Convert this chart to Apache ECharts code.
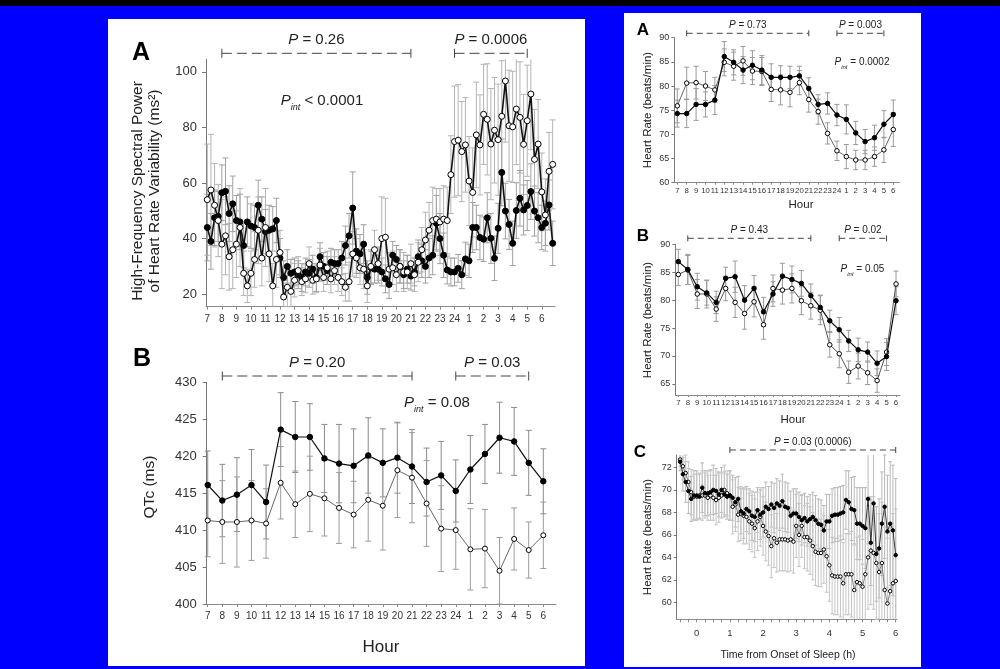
<!DOCTYPE html>
<html>
<head>
<meta charset="utf-8">
<script src="https://cdn.jsdelivr.net/npm/echarts@6/dist/echarts.min.js"></script>
<style>
  html, body { margin: 0; padding: 0; background: #0000ff; overflow: hidden; }
  #stage { position: relative; width: 1000px; height: 669px; }
  .strip { position: absolute; left: 0; top: 0; width: 1000px; height: 6px; background: #000; }
  .panel { position: absolute; background: #fff; }
  #chart { position: absolute; left: 0; top: 0; width: 1000px; height: 669px; }
</style>
</head>
<body>
<div id="stage">
  <div class="strip"></div>
  <div class="panel" style="left:108px;top:19px;width:477px;height:647px;"></div>
  <div class="panel" style="left:624px;top:13px;width:297px;height:654px;"></div>
  <div id="chart"></div>
</div>
<script>
// ---- clock hours shown along the 24-h axes ----
const hourLabels = ['7','8','9','10','11','12','13','14','15','16','17','18','19','20','21','22','23','24','1','2','3','4','5','6'];

// ---- HF spectral power (ms^2), 15-min bins starting at 07:00 ----
const hfFilled = [
  44, 39, 47.5, 48, 56.5, 57, 49, 52.5, 46.5, 46,
  37.5, 46, 44.5, 44, 52, 47, 42.5, 43, 43.5, 46.5,
  33, 26, 30, 27.5, 28, 27, 26, 28, 27.5, 29,
  26, 33.5, 30, 28.5, 31.5, 31, 31, 33, 37.5, 41,
  51, 35.5, 34.5, 38, 26, 29.5, 29, 29, 28, 25.5,
  23.5, 34, 32.5, 30, 27, 29, 26.5, 28, 33.5, 32,
  30, 33, 34, 45.5, 40, 34, 28.7, 28, 28, 29.3,
  27, 32.7, 32, 44, 44, 40.4, 39.8, 47.5, 40.1, 32.9,
  43.7, 63.8, 49.9, 45.1, 38.3, 50.1, 54.5, 50.3, 51.9, 56.9,
  49.9, 47.5, 44, 45.5, 52.1, 38.3
];
const hfFilledErr = [
  12, 10, 10, 9, 10, 12, 10, 10, 9, 10,
  8, 9, 8, 8, 9, 8, 8, 9, 8, 8,
  7, 6, 6, 5, 5, 5, 5, 5, 5, 5,
  5, 5, 5, 5, 5, 5, 5, 6, 7, 8,
  13, 8, 7, 7, 6, 6, 5, 5, 5, 5,
  5, 5, 5, 6, 5, 5, 5, 5, 6, 6,
  6, 7, 7, 10, 9, 8, 5, 5, 5, 5,
  5, 6, 6, 9, 8, 8, 8, 9, 9, 8,
  9, 12, 10, 9, 8, 10, 10, 9, 9, 10,
  9, 9, 8, 8, 9, 8
];
const hfOpen = [
  54, 57.5, 52, 46.5, 38, 41, 33.5, 36, 38, 44,
  27.5, 23, 27.5, 32.5, 43, 33, 44, 34.5, 23, 32.5,
  35, 19, 22.5, 21, 25, 28.5, 24.5, 25.5, 31, 25,
  25.5, 30.5, 26, 29.5, 25.5, 28.5, 26, 24.5, 22.5, 24.5,
  34.5, 33, 29.5, 29, 23, 30, 36, 31, 40, 40.5,
  29, 29.5, 27, 30, 28, 28, 31, 27, 31.5, 36,
  39.5, 43, 46.5, 47, 46, 47, 46.5, 63, 74.9, 75.4,
  71.3, 73.7, 60.7, 56.6, 77.3, 73.7, 84.7, 82.9, 74, 79,
  75.6, 84, 96.7, 80.6, 80.2, 86.6, 83.6, 73.9, 82.4, 92,
  68.5, 74, 56.8, 48.5, 64.2, 66.7
];
const hfOpenErr = [
  20, 20, 15, 13, 16, 14, 12, 14, 12, 14,
  8, 6, 8, 10, 12, 10, 14, 10, 8, 10,
  8, 6, 7, 6, 6, 5, 5, 5, 6, 5,
  5, 6, 5, 6, 5, 5, 5, 5, 5, 7,
  8, 7, 6, 7, 6, 6, 7, 6, 15, 14,
  6, 6, 6, 6, 7, 6, 7, 6, 7, 8,
  10, 10, 12, 11, 12, 12, 12, 14, 20, 20,
  18, 17, 16, 16, 19, 18, 18, 20, 20, 19,
  20, 20, 22, 20, 20, 20, 20, 18, 20, 20,
  18, 16, 14, 13, 14, 16
];

// ---- QTc (ms), hourly ----
const qtcFilled = [416.1, 414.0, 414.8, 416.1, 413.8, 423.6, 422.6, 422.6, 419.7, 419.0, 418.7, 420.1, 419.1, 419.8, 418.6, 416.5, 417.4, 415.3, 418.2, 420.3, 422.5, 422.0, 419.1, 416.6];
const qtcFilledErr = [4.6, 4.9, 5.0, 4.8, 5.0, 5.0, 4.8, 4.5, 4.6, 5.3, 5.0, 5.1, 4.6, 4.8, 5.0, 4.6, 4.6, 4.2, 4.6, 4.0, 4.8, 4.6, 4.4, 4.4];
const qtcOpen = [411.3, 411.1, 411.1, 411.3, 410.9, 416.4, 413.5, 414.9, 414.3, 413.0, 412.1, 414.1, 413.3, 418.1, 417.1, 413.6, 410.2, 410.0, 407.4, 407.5, 404.5, 408.8, 407.3, 409.3];
const qtcOpenErr = [4.9, 5.6, 6.1, 5.4, 4.7, 4.9, 4.5, 5.1, 5.1, 4.8, 4.5, 5.6, 6.0, 6.4, 6.1, 5.8, 5.8, 5.3, 5.5, 5.3, 4.5, 4.2, 3.8, 4.5];

// ---- heart rate (beats/min), hourly, first protocol ----
const hrAFilled = [74.3, 74.3, 76.2, 76.2, 77.1, 86.1, 84.9, 83.3, 84.3, 83.3, 81.8, 81.8, 81.8, 82.1, 79.5, 76.2, 76.4, 74.0, 73.1, 70.3, 68.5, 69.3, 72.1, 74.1];
const hrAFilledErr = [2.8, 2.9, 3.3, 2.6, 3.0, 3.1, 2.6, 2.8, 3.0, 3.0, 2.8, 2.4, 2.3, 2.0, 2.2, 2.0, 2.2, 2.2, 3.0, 2.4, 2.5, 2.6, 2.8, 3.0];
const hrAOpen = [75.9, 80.6, 80.7, 80.0, 79.2, 84.9, 84.1, 85.2, 83.1, 83.0, 79.3, 79.2, 78.7, 80.7, 77.2, 74.7, 70.2, 66.6, 65.4, 64.7, 64.7, 65.4, 66.8, 71.0];
const hrAOpenErr = [3.5, 3.3, 3.4, 3.0, 2.6, 2.8, 2.9, 3.0, 2.8, 2.9, 2.5, 3.1, 3.0, 2.5, 2.6, 2.6, 2.2, 2.0, 2.5, 2.0, 2.0, 2.0, 2.6, 3.5];

// ---- heart rate (beats/min), hourly, second protocol ----
const hrBFilled = [86.9, 85.5, 82.4, 81.3, 79.6, 83.9, 84.2, 80.0, 82.1, 77.9, 81.1, 84.3, 83.7, 83.0, 80.8, 78.7, 76.3, 74.7, 72.7, 71.1, 70.7, 68.7, 69.9, 79.9];
const hrBFilledErr = [2.2, 2.7, 2.4, 2.2, 2.0, 2.0, 2.8, 2.6, 2.3, 2.6, 2.2, 2.3, 2.4, 2.3, 2.1, 2.2, 1.9, 2.2, 1.9, 2.1, 1.8, 2.2, 2.5, 2.5];
const hrBOpen = [84.6, 85.4, 81.1, 81.1, 78.4, 82.1, 79.6, 77.6, 79.7, 75.6, 82.1, 81.8, 82.1, 79.9, 79.0, 78.2, 72.0, 70.4, 67.1, 68.2, 67.0, 65.6, 70.7, 82.9];
const hrBOpenErr = [2.0, 2.6, 2.6, 2.5, 2.2, 2.2, 2.7, 2.8, 2.7, 2.6, 2.4, 2.5, 2.6, 2.5, 2.4, 2.6, 2.2, 2.5, 2.0, 2.3, 2.1, 2.1, 2.4, 2.3];

// ---- heart rate around sleep onset, 5-min bins from -0.5 h ----
const sleepFilled = [
  72.5, 71.4, 70.7, 69.9, 69.2, 69.5, 69.5, 69.4, 70.2, 69.7,
  69.7, 69.8, 70.0, 69.9, 69.6, 70.0, 69.6, 69.4, 69.5, 69.3,
  68.9, 69.2, 68.1, 67.9, 68.3, 68.1, 67.7, 67.6, 68.2, 67.8,
  68.0, 68.5, 68.3, 68.7, 68.4, 68.8, 68.6, 69.0, 68.5, 68.4,
  67.7, 67.9, 67.9, 67.6, 67.3, 67.5, 67.2, 67.4, 67.6, 67.3,
  67.0, 66.9, 66.4, 67.2, 67.2, 67.7, 67.8, 67.8, 67.9, 68.0,
  69.1, 68.9, 68.3, 68.2, 67.0, 67.0, 66.8, 66.6, 69.2, 65.3,
  68.8, 64.3, 64.8, 67.0, 68.5, 66.3, 67.0, 66.4, 64.2
];
const sleepFilledErr = [
  0.8, 1.5, 1.8, 2.0, 2.0, 2.2, 2.2, 2.0, 2.2, 2.0,
  2.0, 2.0, 2.2, 2.0, 2.0, 2.0, 2.0, 2.0, 2.2, 2.0,
  2.2, 2.0, 2.0, 2.2, 2.0, 2.0, 2.2, 2.2, 2.0, 2.2,
  2.2, 2.2, 2.0, 2.0, 2.2, 2.2, 2.2, 2.4, 2.2, 2.2,
  2.2, 2.2, 2.2, 2.2, 2.2, 2.2, 2.2, 2.2, 2.2, 2.2,
  2.2, 2.2, 2.2, 2.4, 2.4, 2.4, 2.4, 2.4, 2.4, 2.4,
  2.6, 2.8, 2.8, 3.0, 3.2, 3.2, 3.4, 3.6, 4.0, 3.8,
  4.4, 4.2, 4.4, 4.6, 4.6, 5.0, 5.5, 5.8, 6.8
];
const sleepOpen = [
  72.7, 72.1, 71.5, 70.7, 69.8, 69.4, 69.4, 69.5, 69.5, 69.5,
  69.3, 69.5, 69.3, 69.1, 69.3, 69.5, 70.0, 69.7, 69.5, 68.5,
  68.7, 67.8, 67.9, 67.7, 67.6, 67.2, 67.0, 66.6, 67.2, 67.6,
  66.8, 66.3, 65.9, 65.0, 65.7, 65.3, 65.6, 65.6, 65.6, 65.5,
  65.6, 65.4, 66.8, 66.0, 66.8, 65.8, 65.8, 65.5, 65.0, 64.5,
  64.4, 64.4, 64.7, 64.1, 63.3, 62.4, 62.3, 62.3, 62.3, 61.7,
  62.5, 62.5, 62.5, 61.1, 61.8, 61.7, 61.4, 62.5, 64.0, 64.6,
  64.4, 63.5, 62.7, 63.5, 61.1, 59.9, 61.0, 61.7, 61.9
];
const sleepOpenErr = [
  0.6, 1.2, 1.6, 1.8, 2.0, 2.0, 2.0, 2.0, 2.2, 2.0,
  2.0, 2.2, 2.0, 2.2, 2.2, 2.0, 2.2, 2.0, 2.2, 2.4,
  2.4, 2.4, 2.4, 2.5, 2.4, 2.5, 2.5, 2.6, 2.6, 2.6,
  2.6, 2.6, 2.6, 2.8, 2.6, 2.6, 2.8, 2.8, 2.8, 2.8,
  2.8, 2.8, 2.8, 2.8, 2.8, 2.8, 3.0, 3.0, 3.0, 3.0,
  3.0, 3.0, 3.0, 3.2, 3.2, 3.4, 3.4, 3.4, 3.6, 3.6,
  3.6, 3.6, 3.8, 4.0, 4.0, 4.2, 4.2, 4.4, 4.6, 4.8,
  5.0, 5.0, 5.2, 5.4, 5.6, 5.8, 6.0, 6.2, 6.4
];
const sleepTickLabels = [0, 1, 2, 3, 4, 5, 6];

// ---- statistics printed over each panel (hour-index ranges) ----
const statsHF = [{ from: 1, to: 14, p: '= 0.26' }, { from: 17, to: 22, p: '= 0.0006' }];
const statsQTc = [{ from: 1, to: 14, p: '= 0.20' }, { from: 17, to: 22, p: '= 0.03' }];
const statsHrA = [{ from: 1, to: 14, p: '= 0.73' }, { from: 17, to: 22, p: '= 0.003' }];
const statsHrB = [{ from: 1, to: 14, p: '= 0.43' }, { from: 17, to: 22, p: '= 0.02' }];
const statsSleep = [{ from: 1, to: 6, p: '= 0.03 (0.0006)' }];
const pIntText = ['< 0.0001', '= 0.08', '= 0.0002', '= 0.05'];

// ---- x positions of the bins ----
const hourX = hourLabels.map((_, i) => i);
const hfX = hfFilled.map((_, i) => i / 4);
const sleepX = sleepFilled.map((_, i) => -0.5 + i / 12);

const FONT = '"Liberation Sans", Arial, Helvetica, sans-serif';
const chart = echarts.init(document.getElementById('chart'), null, { renderer: 'canvas' });

function errBars(gi, xs, ys, es, color, cap, yMin, yMax) {
  return {
    type: 'custom', xAxisIndex: gi, yAxisIndex: gi, z: 1, silent: true,
    data: ys.map((v, i) => [xs[i], v, es[i]]),
    encode: { x: 0, y: 1 },
    renderItem(params, api) {
      const x = api.value(0), y = api.value(1), e = api.value(2);
      const hi = Math.min(y + e, yMax), lo = Math.max(y - e, yMin);
      const p1 = api.coord([x, hi]), p2 = api.coord([x, lo]);
      const st = { stroke: color, lineWidth: 1 };
      const ch = [{ type: 'line', shape: { x1: p1[0], y1: p1[1], x2: p2[0], y2: p2[1] }, style: st }];
      if (y + e <= yMax) ch.push({ type: 'line', shape: { x1: p1[0] - cap, y1: p1[1], x2: p1[0] + cap, y2: p1[1] }, style: st });
      if (y - e >= yMin) ch.push({ type: 'line', shape: { x1: p2[0] - cap, y1: p2[1], x2: p2[0] + cap, y2: p2[1] }, style: st });
      return { type: 'group', children: ch };
    }
  };
}

function lineSeries(gi, xs, ys, filled, size, lw, lineColor, z) {
  return {
    type: 'line', xAxisIndex: gi, yAxisIndex: gi, z: z,
    data: ys.map((v, i) => [xs[i], v]),
    symbol: 'circle', symbolSize: size, showSymbol: true, showAllSymbol: true,
    lineStyle: { color: lineColor, width: lw },
    itemStyle: { color: filled ? '#000' : '#fff', borderColor: '#000', borderWidth: 1 },
    emphasis: { disabled: true }, silent: true
  };
}

function hourXAxis(gi, min, max, fs, margin, tickLen) {
  return {
    type: 'value', gridIndex: gi, min: min, max: max,
    axisLine: { onZero: false, lineStyle: { color: '#8a8a8a', width: 1 } },
    axisTick: { show: true, length: tickLen, customValues: hourX, lineStyle: { color: '#8a8a8a' } },
    axisLabel: { customValues: hourX, formatter: v => hourLabels[Math.round(v)], fontSize: fs, fontFamily: FONT, color: '#333', margin: margin },
    splitLine: { show: false }
  };
}

function yAxisCfg(gi, min, max, ticks, fs, margin, tickLen) {
  return {
    type: 'value', gridIndex: gi, min: min, max: max,
    axisLine: { show: true, onZero: false, lineStyle: { color: '#777', width: 1 } },
    axisTick: { show: true, length: tickLen, customValues: ticks, lineStyle: { color: '#777' } },
    axisLabel: { customValues: ticks, fontSize: fs, fontFamily: FONT, color: '#333', margin: margin },
    splitLine: { show: false }
  };
}

const sleepMinor = [];
for (let t = -0.5; t <= 6.001; t += 0.25) sleepMinor.push(t);

const option = {
  animation: false,
  grid: [
    { left: 206, top: 59.3, width: 349, height: 247.4 },
    { left: 206.7, top: 382.3, width: 349.3, height: 221.7 },
    { left: 674.3, top: 37.7, width: 225, height: 145 },
    { left: 675.3, top: 244.3, width: 224.7, height: 150.8 },
    { left: 676.7, top: 455, width: 220, height: 164.3 }
  ],
  xAxis: [
    hourXAxis(0, -0.09, 23.91, 10, 8, 3),
    hourXAxis(1, -0.07, 23.87, 10, 7, 3),
    hourXAxis(2, -0.32, 23.64, 7.8, 4, 2),
    hourXAxis(3, -0.32, 23.42, 7.8, 4, 2),
    {
      type: 'value', gridIndex: 4, min: -0.603, max: 6.03,
      axisLine: { onZero: false, lineStyle: { color: '#8a8a8a', width: 1 } },
      axisTick: { show: true, length: 3, customValues: sleepMinor, lineStyle: { color: '#8a8a8a' } },
      axisLabel: { customValues: sleepTickLabels, fontSize: 9.5, fontFamily: FONT, color: '#333', margin: 9 },
      splitLine: { show: false }
    }
  ],
  yAxis: [
    yAxisCfg(0, 15.5, 104.5, [20, 40, 60, 80, 100], 13, 9, 4),
    yAxisCfg(1, 400, 430, [400, 405, 410, 415, 420, 425, 430], 13, 10, 4),
    yAxisCfg(2, 60, 90, [60, 65, 70, 75, 80, 85, 90], 9, 5, 3),
    yAxisCfg(3, 63, 90, [65, 70, 75, 80, 85, 90], 9, 5, 3),
    yAxisCfg(4, 58.5, 73.1, [60, 62, 64, 66, 68, 70, 72], 9, 5, 3)
  ],
  series: [
    errBars(0, hfX, hfOpen, hfOpenErr, '#b4b4b4', 3, 15.5, 104.5),
    errBars(0, hfX, hfFilled, hfFilledErr, '#a0a0a0', 3, 15.5, 104.5),
    lineSeries(0, hfX, hfFilled, true, 6, 1.6, '#111', 3),
    lineSeries(0, hfX, hfOpen, false, 6, 1.6, '#111', 4),

    errBars(1, hourX, qtcFilled, qtcFilledErr, '#8c8c8c', 3, 400, 430),
    errBars(1, hourX, qtcOpen, qtcOpenErr, '#9c9c9c', 3, 400, 430),
    lineSeries(1, hourX, qtcOpen, false, 5, 1, '#666', 3),
    lineSeries(1, hourX, qtcFilled, true, 5.5, 1.2, '#111', 4),

    errBars(2, hourX, hrAFilled, hrAFilledErr, '#9a9a9a', 2.5, 60, 90),
    errBars(2, hourX, hrAOpen, hrAOpenErr, '#9a9a9a', 2.5, 60, 90),
    lineSeries(2, hourX, hrAOpen, false, 4.5, 1, '#666', 3),
    lineSeries(2, hourX, hrAFilled, true, 4.5, 1.2, '#111', 4),

    errBars(3, hourX, hrBFilled, hrBFilledErr, '#9a9a9a', 2.5, 63, 90),
    errBars(3, hourX, hrBOpen, hrBOpenErr, '#9a9a9a', 2.5, 63, 90),
    lineSeries(3, hourX, hrBOpen, false, 4.5, 1, '#555', 3),
    lineSeries(3, hourX, hrBFilled, true, 4.5, 1.2, '#111', 4),

    errBars(4, sleepX, sleepFilled, sleepFilledErr, '#b8b8b8', 1.8, 58.5, 73.1),
    errBars(4, sleepX, sleepOpen, sleepOpenErr, '#c4c4c4', 1.8, 58.5, 73.1),
    lineSeries(4, sleepX, sleepOpen, false, 3.5, 0.8, '#666', 3),
    lineSeries(4, sleepX, sleepFilled, true, 3.5, 0.9, '#222', 4)
  ]
};
chart.setOption(option);

// ---- text, letters and P-value brackets ----
function txt(x, y, text, size, opts) {
  opts = opts || {};
  return {
    type: 'text', x: x, y: y, rotation: opts.rotation || 0, z: 10,
    style: {
      text: text, fontFamily: FONT, fontSize: size, fontWeight: opts.bold ? 'bold' : 'normal',
      fill: opts.color || '#222', align: 'center', verticalAlign: 'middle',
      textAlign: 'center', textVerticalAlign: 'middle', lineHeight: opts.lineHeight || size * 1.2
    }
  };
}

function richP(x, y, body, size, sub) {
  const rich = {
    i: { fontStyle: 'italic', fontSize: size, fontFamily: FONT, fill: '#222', lineHeight: size + 6 },
    n: { fontSize: size, fontFamily: FONT, fill: '#222', lineHeight: size + 6 },
    s: { fontStyle: 'italic', fontSize: Math.round(size * 0.62), fontFamily: FONT, fill: '#222', lineHeight: Math.round(size * 0.62) + 1, verticalAlign: 'bottom' }
  };
  const text = sub ? '{i|P}{s|int}{n| ' + body + '}' : '{i|P}{n| ' + body + '}';
  return {
    type: 'text', x: x, y: y, z: 10,
    style: { text: text, rich: rich, align: 'center', verticalAlign: 'middle', textAlign: 'center', textVerticalAlign: 'middle', fontSize: size, fontFamily: FONT }
  };
}

function brackets(gi, stats, y, capH, size, textDy, dash) {
  const out = [];
  const st = { stroke: '#444', lineWidth: 1 };
  stats.forEach(s => {
    const x1 = chart.convertToPixel({ xAxisIndex: gi }, s.from);
    const x2 = chart.convertToPixel({ xAxisIndex: gi }, s.to);
    out.push({ type: 'line', z: 10, shape: { x1: x1, y1: y, x2: x2, y2: y }, style: { stroke: '#444', lineWidth: 1, lineDash: dash } });
    out.push({ type: 'line', z: 10, shape: { x1: x1, y1: y - capH / 2, x2: x1, y2: y + capH / 2 }, style: st });
    out.push({ type: 'line', z: 10, shape: { x1: x2, y1: y - capH / 2, x2: x2, y2: y + capH / 2 }, style: st });
    out.push(richP((x1 + x2) / 2, y - textDy, s.p, size, false));
  });
  return out;
}

const g = [];
// left column
g.push(txt(141, 53, 'A', 25, { bold: true, color: '#000' }));
g.push(txt(146.5, 191, 'High-Frequency Spectral Power\nof Heart Rate Variability (ms²)', 15.5, { rotation: Math.PI / 2, lineHeight: 17 }));
g.push(...brackets(0, statsHF, 53.3, 9, 15, 13, [10, 5]));
g.push(richP(322, 101, pIntText[0], 15, true));

g.push(txt(142, 359, 'B', 25, { bold: true, color: '#000' }));
g.push(txt(150, 487, 'QTc (ms)', 15.5, { rotation: Math.PI / 2 }));
g.push(...brackets(1, statsQTc, 376, 9, 15, 13, [10, 5]));
g.push(richP(437, 403, pIntText[1], 15, true));
g.push(txt(381, 647, 'Hour', 17));

// right column
g.push(txt(643, 30, 'A', 17, { bold: true, color: '#000' }));
g.push(txt(648, 110, 'Heart Rate (beats/min)', 11.5, { rotation: Math.PI / 2 }));
g.push(...brackets(2, statsHrA, 33.3, 6, 10, 8.5, [6, 4]));
g.push(richP(862, 62, pIntText[2], 10, true));
g.push(txt(801, 205, 'Hour', 11.5));

g.push(txt(643, 236, 'B', 17, { bold: true, color: '#000' }));
g.push(txt(648, 320, 'Heart Rate (beats/min)', 11.5, { rotation: Math.PI / 2 }));
g.push(...brackets(3, statsHrB, 238.3, 6, 10, 8, [6, 4]));
g.push(richP(862.5, 269, pIntText[3], 10, true));
g.push(txt(793, 420, 'Hour', 11.5));

g.push(txt(640, 452, 'C', 17, { bold: true, color: '#000' }));
g.push(txt(648, 537, 'Heart Rate (beats/min)', 11.5, { rotation: Math.PI / 2 }));
g.push(...brackets(4, statsSleep, 450, 6, 10, 7.5, [6, 4]));
g.push(txt(788, 655, 'Time from Onset of Sleep (h)', 10.5));

chart.setOption({ graphic: { elements: g } });
</script>
</body>
</html>
